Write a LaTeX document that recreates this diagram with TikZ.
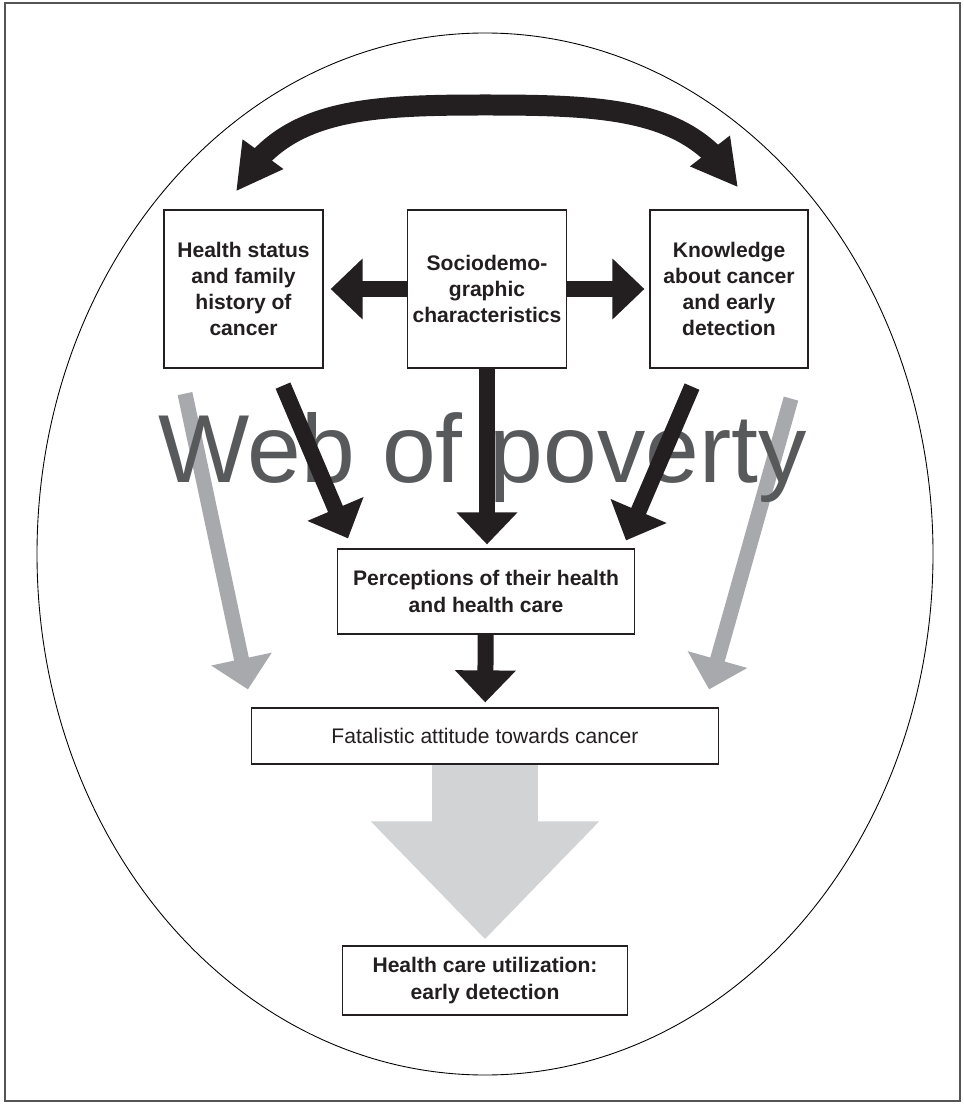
\documentclass[tikz,border=0pt]{standalone}
\usepackage{fontspec}
\setmainfont{Liberation Sans}
\usepackage{xcolor}
\usepackage{tikz}
\usetikzlibrary{arrows.meta,bending}
\definecolor{inkblack}{HTML}{231F20}
\definecolor{arrowgray}{HTML}{A7A9AC}
\definecolor{biggray}{HTML}{D1D3D4}
\definecolor{webgray}{HTML}{58595B}
\definecolor{framegray}{HTML}{555555}

\begin{document}
\begin{tikzpicture}[x=0.02cm, y=-0.02cm,
    box/.style={draw=inkblack, line width=0.7pt, text=inkblack, align=center, inner sep=0pt,
        font=\fontsize{12}{14.9}\selectfont\bfseries},
    blackarrow/.style={draw=inkblack, line width=0.32cm, -{Triangle[length=0.64cm, width=1.18cm]}},
    grayarrow/.style={draw=arrowgray, line width=0.3cm, -{Triangle[length=0.62cm, width=1.2cm]}},
    curvearrow/.style={draw=inkblack, line width=0.42cm,
        {Triangle[length=0.92cm, width=0.94cm]}-{Triangle[length=0.92cm, width=0.94cm]}},
    bigarrow/.style={draw=biggray, line width=2.14cm, -{Triangle[length=2.36cm, width=4.42cm]}}]
    \useasboundingbox (0,0) rectangle (963,1104);
    \draw[framegray, line width=0.6pt] (5,3) rectangle (960,1101);
    \draw[line width=0.5pt] (485,554) ellipse [x radius=448, y radius=521];

    % boxes
    \node[box, minimum width=3.18cm, minimum height=3.16cm] (health) at (243.5,289) {Health status\\and family\\history of\\cancer};
    \node[box, minimum width=3.18cm, minimum height=3.16cm] (socio) at (487,289) {Sociodemo-\\graphic\\characteristics};
    \node[box, minimum width=3.16cm, minimum height=3.16cm] (knowledge) at (729,289) {Knowledge\\about cancer\\and early\\detection};
    \node[box, minimum width=5.94cm, minimum height=1.7cm] (percept) at (486,591.5) {Perceptions of their health\\and health care};
    \node[box, minimum width=9.34cm, minimum height=1.12cm, font=\fontsize{12}{14.9}\selectfont] (fatal) at (485,736) {Fatalistic attitude towards cancer};
    \node[box, minimum width=5.7cm, minimum height=1.38cm] (care) at (485,980.5) {Health care utilization:\\early detection};

    \draw[grayarrow] ([shift={(-58.5,25)}]health.south) -- ([shift={(-3,-18)}]fatal.north west);
    \draw[grayarrow] ([shift={(62,30)}]knowledge.south) -- ([shift={(-10,-18)}]fatal.north east);

    \node[font=\fontsize{55}{60}\selectfont, text=webgray, anchor=base, inner sep=0pt] (web) at (482.5,482) {Web of poverty};

    \draw[curvearrow] ([shift={(-7.5,-18)}]health.north) .. controls (280,110) and (360,105) .. (485,105)
        .. controls (610,105) and (694,109) .. ([shift={(9,-22)}]knowledge.north);
    \draw[blackarrow, shorten >=0.14cm] (socio) -- (health);
    \draw[blackarrow, shorten >=0.1cm] (socio) -- (knowledge);
    \draw[blackarrow, shorten >=0.08cm] (socio) -- (socio |- percept.north);
    \draw[blackarrow] ([shift={(39.5,17)}]health.south) -- ([shift={(-138,-10)}]percept.north);
    \draw[blackarrow] ([shift={(-37,18)}]knowledge.south) -- ([shift={(140,-8)}]percept.north);
    \draw[blackarrow, shorten >=0.1cm] (percept) -- (fatal);
    \draw[bigarrow, shorten >=0.12cm] (fatal) -- (care);
\end{tikzpicture}
\end{document}
